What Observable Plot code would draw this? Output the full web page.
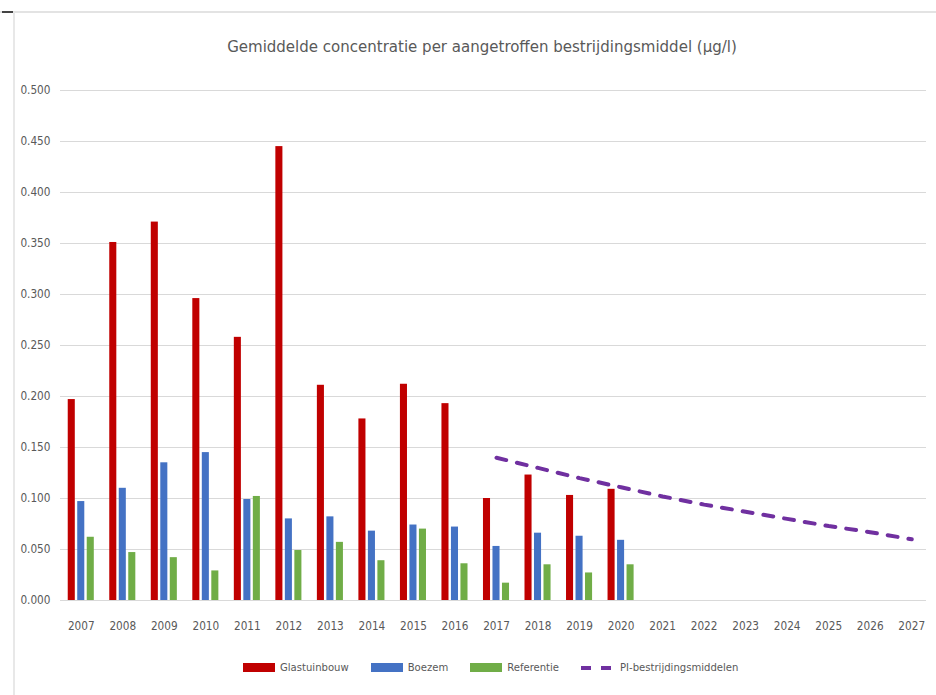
<!DOCTYPE html>
<html>
<head>
<meta charset="utf-8">
<script src="https://cdn.jsdelivr.net/npm/d3@7"></script>
<script src="https://cdn.jsdelivr.net/npm/@observablehq/plot@0.6"></script>
<style>
  html, body { margin: 0; padding: 0; background: #ffffff; }
  #wrap { position: relative; width: 936px; height: 695px; background: #ffffff; overflow: hidden;
          font-family: "DejaVu Sans Condensed", "DejaVu Sans", sans-serif; color: #595959; }
  .frame-top { position: absolute; left: 0; top: 11px; width: 936px; height: 2px; background: #e3e3e3; }
  .frame-mark { position: absolute; left: 2px; top: 11px; width: 11px; height: 2px; background: #444; }
  .frame-left { position: absolute; left: 13px; top: 12px; width: 2px; height: 683px; background: #e8e8e8; }
  #title { height: 70px; position: relative; }
  #title span { position: absolute; left: 482px; top: 36px; transform: translateX(-50%); white-space: nowrap;
                font-size: 16.7px; color: #595959; }
  #chart { height: 575px; }
  #legend { position: relative; height: 50px; }
  #legend .items { position: absolute; left: 243px; top: 16px; display: flex; align-items: center; gap: 22px; font-size: 11.2px; }
  #legend .item { display: flex; align-items: center; gap: 5px; }
  #legend .sw { width: 32px; height: 9px; }
</style>
</head>
<body>
<div id="wrap">
  <div class="frame-top"></div>
  <div class="frame-left"></div>
  <div class="frame-mark"></div>
  <div id="title"><span>Gemiddelde concentratie per aangetroffen bestrijdingsmiddel (µg/l)</span></div>
  <div id="chart"></div>
  <div id="legend"><div class="items" id="legendItems"></div></div>
</div>
<script>
// ---- data ----
const years = ["2007","2008","2009","2010","2011","2012","2013","2014","2015","2016","2017","2018","2019","2020","2021","2022","2023","2024","2025","2026","2027"];
const barYears = ["2007","2008","2009","2010","2011","2012","2013","2014","2015","2016","2017","2018","2019","2020"];
const glastuinbouw = [0.197, 0.351, 0.371, 0.296, 0.258, 0.445, 0.211, 0.178, 0.212, 0.193, 0.100, 0.123, 0.103, 0.109];
const boezem       = [0.097, 0.110, 0.135, 0.145, 0.099, 0.080, 0.082, 0.068, 0.074, 0.072, 0.053, 0.066, 0.063, 0.059];
const referentie   = [0.062, 0.047, 0.042, 0.029, 0.102, 0.049, 0.057, 0.039, 0.070, 0.036, 0.017, 0.035, 0.027, 0.035];
const piYears  = ["2017","2018","2019","2020","2021","2022","2023","2024","2025","2026","2027"];
const piValues = [0.140, 0.130, 0.120, 0.111, 0.102, 0.094, 0.087, 0.080, 0.073, 0.067, 0.060];
const yTicks = [0, 0.05, 0.1, 0.15, 0.2, 0.25, 0.3, 0.35, 0.4, 0.45, 0.5];
const seriesNames = ["Glastuinbouw", "Boezem", "Referentie", "PI-bestrijdingsmiddelen"];
const colors = ["#C00000", "#4472C4", "#70AD47", "#7030A0"];

// ---- tables ----
const rows = barYears.map((year, i) => ({year, glas: glastuinbouw[i], boezem: boezem[i], ref: referentie[i]}));
const piRows = piYears.map((year, i) => ({year, value: piValues[i]}));

const chart = Plot.plot({
  width: 936,
  height: 575,
  marginLeft: 60,
  marginRight: 4,
  marginTop: 20,
  marginBottom: 45,
  style: {fontFamily: '"DejaVu Sans Condensed", "DejaVu Sans", sans-serif', fontSize: "11.7px", color: "#595959", background: "#ffffff"},
  x: {type: "band", domain: years, round: false, paddingInner: 0.83, paddingOuter: 0.415, label: null, tickSize: 0, tickPadding: 21},
  y: {domain: [0, 0.5], ticks: yTicks, tickFormat: d3.format(".3f"), tickSize: 0, tickPadding: 10, label: null},
  marks: [
    Plot.ruleY(yTicks, {insetRight: 6, stroke: "#d9d9d9", strokeWidth: 1.2}),
    Plot.barY(rows, {x: "year", y: "glas", fill: colors[0], dx: -9.5}),
    Plot.barY(rows, {x: "year", y: "boezem", fill: colors[1]}),
    Plot.barY(rows, {x: "year", y: "ref", fill: colors[2], dx: 9.5}),
    Plot.lineY(piRows, {x: "year", y: "value", stroke: colors[3], strokeWidth: 4, strokeDasharray: "10,11"})
  ]
});
document.getElementById("chart").appendChild(chart);

// ---- legend ----
const li = document.getElementById("legendItems");
seriesNames.forEach((name, i) => {
  const item = document.createElement("div");
  item.className = "item";
  if (i < 3) {
    const sw = document.createElement("div");
    sw.className = "sw";
    sw.style.background = colors[i];
    item.appendChild(sw);
  } else {
    const ns = "http://www.w3.org/2000/svg";
    const s = document.createElementNS(ns, "svg");
    s.setAttribute("width", "34");
    s.setAttribute("height", "10");
    const l = document.createElementNS(ns, "line");
    l.setAttribute("x1", "0"); l.setAttribute("x2", "34");
    l.setAttribute("y1", "5"); l.setAttribute("y2", "5");
    l.setAttribute("stroke", colors[3]);
    l.setAttribute("stroke-width", "4");
    l.setAttribute("stroke-dasharray", "10,10");
    s.appendChild(l);
    item.appendChild(s);
  }
  const t = document.createElement("span");
  t.textContent = name;
  item.appendChild(t);
  li.appendChild(item);
});
</script>
</body>
</html>
